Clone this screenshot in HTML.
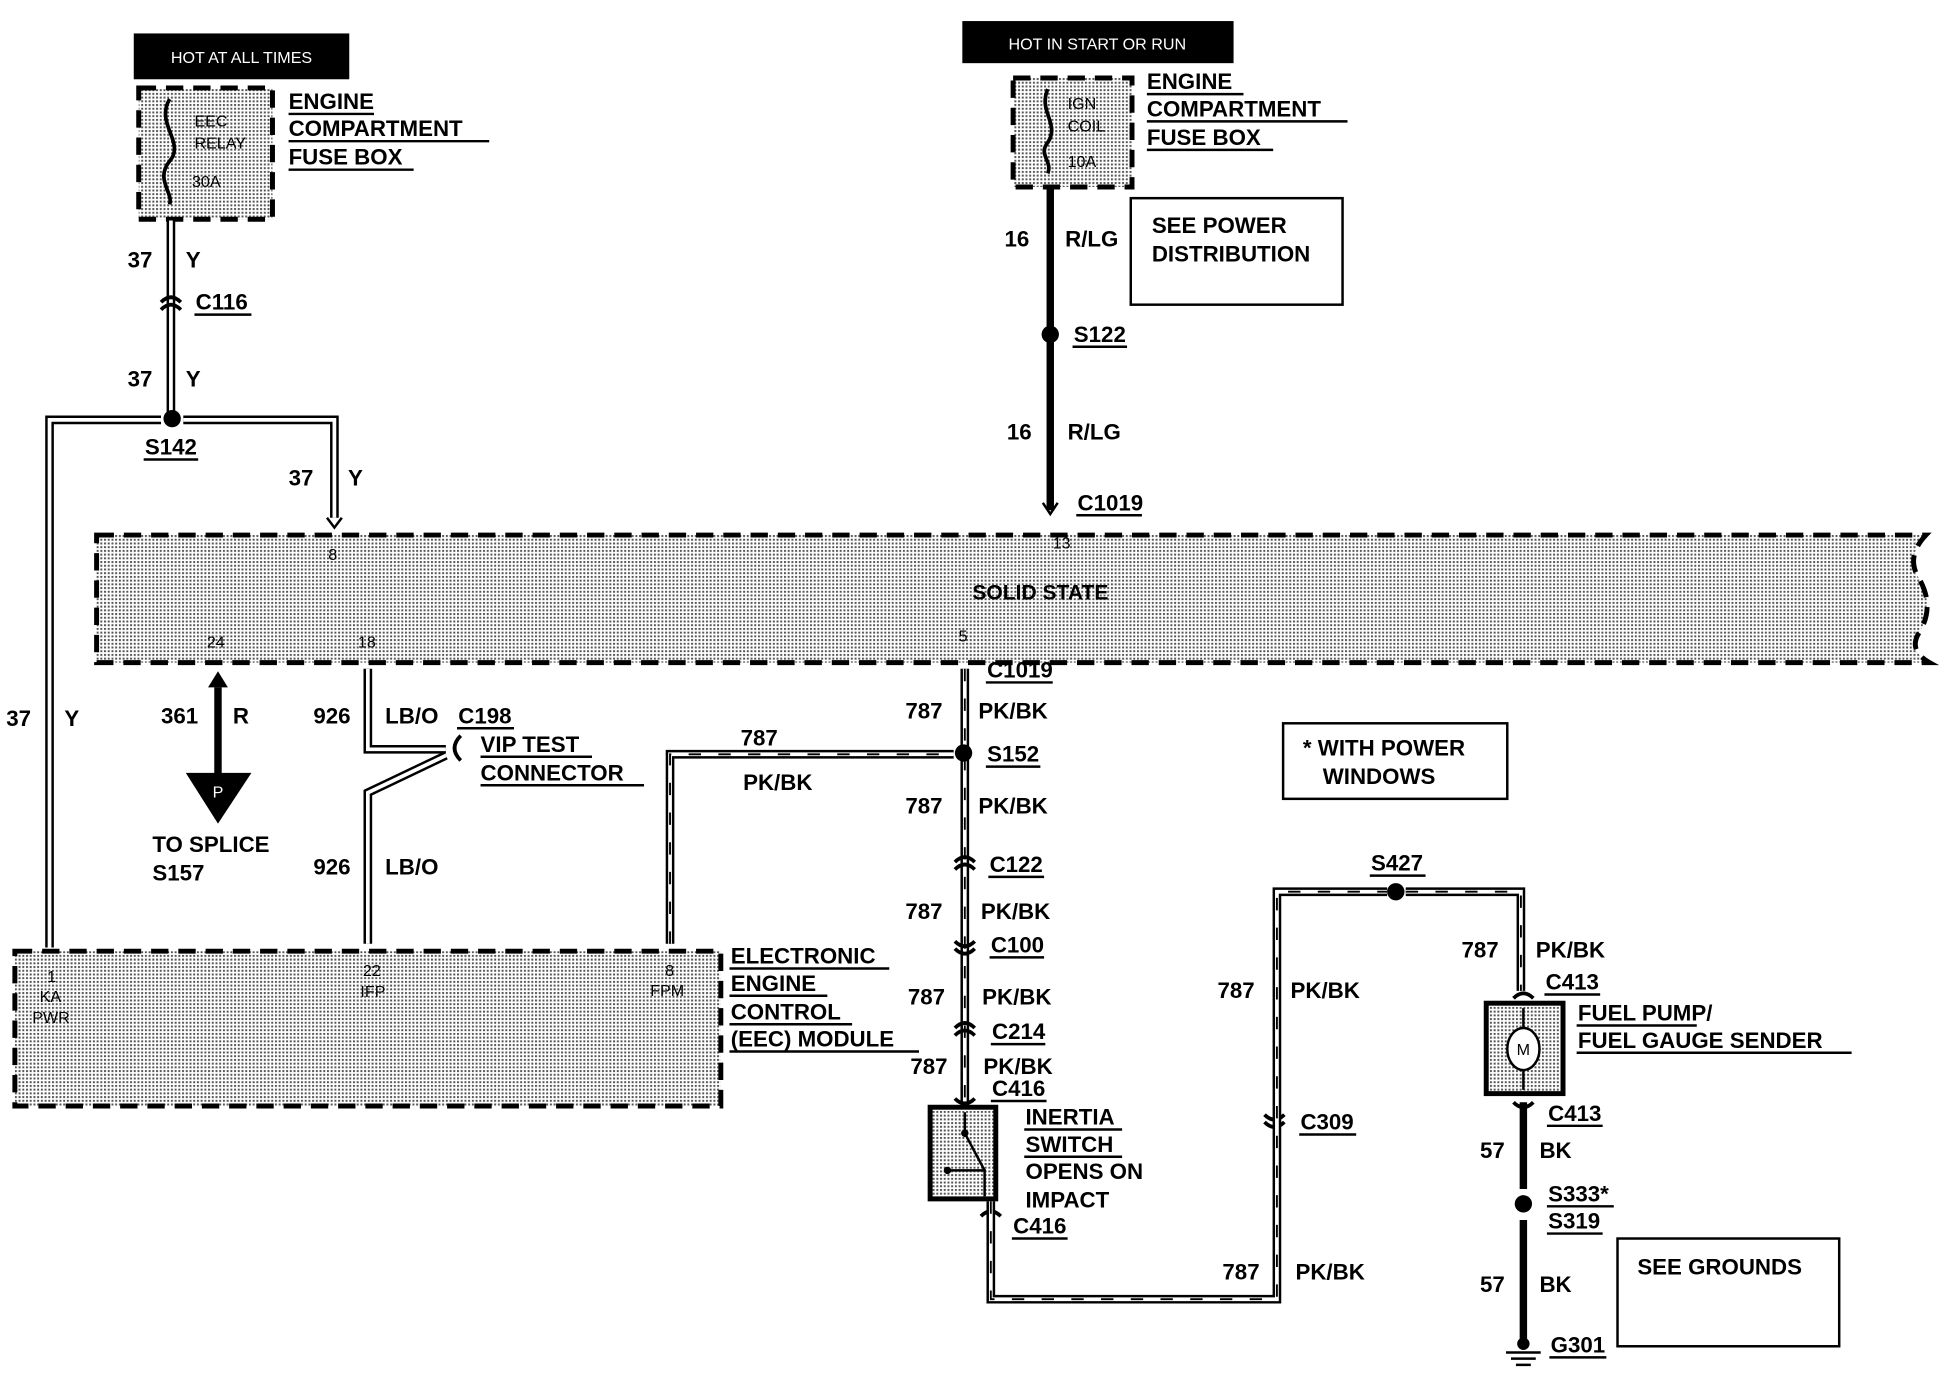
<!DOCTYPE html>
<html><head><meta charset="utf-8"><style>
html,body{margin:0;padding:0;background:#fff;}
svg{display:block;}
text{font-family:"Liberation Sans",sans-serif;font-weight:bold;fill:#000;}
.t{font-size:18px;}
.s{font-size:13px;font-weight:normal;}
.w{stroke:#000;stroke-width:7;fill:none;}
.wi{stroke:#fff;stroke-width:3;fill:none;}
.h{stroke:#000;stroke-width:1.5;fill:none;stroke-dasharray:10 14;}
.k{stroke:#000;stroke-width:6;fill:none;}
.u{stroke:#000;stroke-width:2;}
.box{fill:url(#dots);stroke:#000;stroke-width:4;stroke-dasharray:14 8;}
</style></head><body>
<svg width="1942" height="1376" viewBox="0 0 1568 1111" xmlns="http://www.w3.org/2000/svg">
<defs>
<pattern id="dots" width="3" height="3" patternUnits="userSpaceOnUse">
<rect width="3" height="3" fill="#fff"/><rect width="1.6" height="1.6" fill="#555"/>
</pattern>
</defs>

<rect x="108" y="27" width="174" height="37" fill="#000"/>
<text x="195" y="51" class="s" text-anchor="middle" style="fill:#fff">HOT AT ALL TIMES</text>
<rect x="112" y="71" width="108" height="106" class="box"/>
<text x="157" y="102" class="s">EEC</text><text x="157" y="120" class="s">RELAY</text><text x="155" y="151" class="s">30A</text>
<path d="M137 80 C125 100,150 115,137 130 C125 145,140 155,137 165" stroke="#000" stroke-width="3" fill="none"/>
<text x="233" y="88" class="t">ENGINE</text><line x1="233" y1="92" x2="302" y2="92" class="u"/>
<text x="233" y="110" class="t">COMPARTMENT</text><line x1="233" y1="114" x2="395" y2="114" class="u"/>
<text x="233" y="133" class="t">FUSE BOX</text><line x1="233" y1="137" x2="334" y2="137" class="u"/>

<path d="M138 178 V333" class="w"/><path d="M138 178 V333" class="wi"/>
<path d="M130 244 q8 -8 16 0 M130 250 q8 -8 16 0" stroke="#000" stroke-width="3" fill="none"/>
<text x="103" y="216" class="t">37</text><text x="150" y="216" class="t">Y</text>
<text x="158" y="250" class="t">C116</text><line x1="157" y1="254" x2="203" y2="254" class="u"/>
<text x="103" y="312" class="t">37</text><text x="150" y="312" class="t">Y</text>
<path d="M40 765 V339 H130 M148 339 H270 V418" class="w"/>
<path d="M40 765 V339 H130 M148 339 H270 V418" class="wi"/>
<circle cx="139" cy="338" r="7" fill="#000"/>
<path d="M264 418 L270 426 L276 418" stroke="#000" stroke-width="2" fill="none"/>
<text x="117" y="367" class="t">S142</text><line x1="116" y1="371" x2="160" y2="371" class="u"/>
<text x="233" y="392" class="t">37</text><text x="281" y="392" class="t">Y</text>
<text x="5" y="586" class="t">37</text><text x="52" y="586" class="t">Y</text>

<rect x="777" y="17" width="219" height="34" fill="#000"/>
<text x="886" y="40" class="s" text-anchor="middle" style="fill:#fff">HOT IN START OR RUN</text>
<rect x="818" y="63" width="96" height="88" class="box"/>
<text x="862" y="88" class="s">IGN</text><text x="862" y="106" class="s">COIL</text><text x="862" y="135" class="s">10A</text>
<path d="M846 72 C838 90,856 100,846 115 C838 125,850 130,846 140" stroke="#000" stroke-width="3" fill="none"/>
<text x="926" y="72" class="t">ENGINE</text><line x1="926" y1="76" x2="1004" y2="76" class="u"/>
<text x="926" y="94" class="t">COMPARTMENT</text><line x1="926" y1="98" x2="1088" y2="98" class="u"/>
<text x="926" y="117" class="t">FUSE BOX</text><line x1="926" y1="121" x2="1028" y2="121" class="u"/>
<path d="M848 152 V412" class="k"/>
<path d="M842 406 L848 415 L854 406" stroke="#000" stroke-width="2" fill="none"/>
<text x="811" y="199" class="t">16</text><text x="860" y="199" class="t">R/LG</text>
<rect x="913" y="160" width="171" height="86" fill="none" stroke="#000" stroke-width="2"/>
<text x="930" y="188" class="t">SEE POWER</text><text x="930" y="211" class="t">DISTRIBUTION</text>
<circle cx="848" cy="270" r="7" fill="#000"/>
<text x="867" y="276" class="t">S122</text><line x1="866" y1="280" x2="910" y2="280" class="u"/>
<text x="813" y="355" class="t">16</text><text x="862" y="355" class="t">R/LG</text>
<text x="870" y="412" class="t">C1019</text><line x1="869" y1="416" x2="922" y2="416" class="u"/>

<path d="M78 432 H1555 Q1538 450,1550 468 Q1562 490,1550 510 Q1540 525,1558 535 H78 Z" class="box"/>
<text x="840" y="484" class="t" text-anchor="middle" style="font-size:17px">SOLID STATE</text>
<text x="265" y="452" class="s">8</text><text x="850" y="443" class="s">13</text>
<text x="167" y="523" class="s">24</text><text x="289" y="523" class="s">18</text><text x="774" y="518" class="s">5</text>

<path d="M176 555 V625" class="k"/>
<path d="M168 555 L176 542 L184 555 Z" fill="#000"/>
<path d="M150 624 H203 L176 665 Z" fill="#000"/>
<text x="176" y="644" class="s" text-anchor="middle" style="fill:#fff">P</text>
<text x="130" y="584" class="t">361</text><text x="188" y="584" class="t">R</text>
<text x="123" y="688" class="t">TO SPLICE</text><text x="123" y="711" class="t">S157</text>

<path d="M297 540 V605 H360 M360 610 L297 640 V762" class="w"/>
<path d="M297 540 V605 H360 M360 610 L297 640 V762" class="wi"/>
<path d="M372 594 q-10 10 0 20" stroke="#000" stroke-width="3" fill="none"/>
<text x="253" y="584" class="t">926</text><text x="311" y="584" class="t">LB/O</text>
<text x="370" y="584" class="t">C198</text><line x1="369" y1="588" x2="415" y2="588" class="u"/>
<text x="388" y="607" class="t">VIP TEST</text><line x1="388" y1="611" x2="478" y2="611" class="u"/>
<text x="388" y="630" class="t">CONNECTOR</text><line x1="388" y1="634" x2="520" y2="634" class="u"/>
<text x="253" y="706" class="t">926</text><text x="311" y="706" class="t">LB/O</text>

<path d="M541 762 V609 H770" class="w"/><path d="M541 762 V609 H770" class="wi"/>
<path d="M541 762 V609 H770" class="h"/>
<text x="598" y="602" class="t">787</text><text x="600" y="638" class="t">PK/BK</text>

<path d="M779 540 V893" class="w"/><path d="M779 540 V893" class="wi"/><path d="M779 540 V893" class="h"/>
<circle cx="778" cy="608" r="7" fill="#000"/>
<g stroke="#000" stroke-width="3" fill="none">
<path d="M771 696 q8 -8 16 0 M771 702 q8 -8 16 0"/>
<path d="M771 760 q8 8 16 0 M771 766 q8 8 16 0"/>
<path d="M771 830 q8 -8 16 0 M771 836 q8 -8 16 0"/>
<path d="M771 887 q8 8 16 0"/>
<path d="M792 982 q8 -8 16 0"/>
<path d="M1021 900 q8 8 16 0 M1021 906 q8 8 16 0"/>
<path d="M1222 806 q8 -8 16 0"/>
<path d="M1222 890 q8 8 16 0"/>
</g>
<text x="797" y="547" class="t">C1019</text><line x1="796" y1="551" x2="850" y2="551" class="u"/>
<text x="731" y="580" class="t">787</text><text x="790" y="580" class="t">PK/BK</text>
<text x="797" y="615" class="t">S152</text><line x1="796" y1="619" x2="840" y2="619" class="u"/>
<text x="731" y="657" class="t">787</text><text x="790" y="657" class="t">PK/BK</text>
<text x="799" y="704" class="t">C122</text><line x1="798" y1="708" x2="843" y2="708" class="u"/>
<text x="731" y="742" class="t">787</text><text x="792" y="742" class="t">PK/BK</text>
<text x="800" y="769" class="t">C100</text><line x1="799" y1="773" x2="843" y2="773" class="u"/>
<text x="733" y="811" class="t">787</text><text x="793" y="811" class="t">PK/BK</text>
<text x="801" y="839" class="t">C214</text><line x1="800" y1="843" x2="844" y2="843" class="u"/>
<text x="735" y="867" class="t">787</text><text x="794" y="867" class="t">PK/BK</text>
<text x="801" y="885" class="t">C416</text><line x1="800" y1="889" x2="845" y2="889" class="u"/>

<rect x="751" y="894" width="53" height="74" fill="url(#dots)" stroke="#000" stroke-width="4"/>
<path d="M779 898 V915 L795 945 M765 945 H795 V966" stroke="#000" stroke-width="2" fill="none"/>
<circle cx="779" cy="915" r="3" fill="#000"/><circle cx="765" cy="945" r="3" fill="#000"/>
<text x="828" y="908" class="t">INERTIA</text><line x1="827" y1="912" x2="906" y2="912" class="u"/>
<text x="828" y="930" class="t">SWITCH</text><line x1="827" y1="934" x2="906" y2="934" class="u"/>
<text x="828" y="952" class="t">OPENS ON</text>
<text x="828" y="975" class="t">IMPACT</text>
<text x="818" y="996" class="t">C416</text><line x1="817" y1="1000" x2="862" y2="1000" class="u"/>

<path d="M800 970 V1049 H1031 V720 H1120 M1135 720 H1228 V800" class="w"/>
<path d="M800 970 V1049 H1031 V720 H1120 M1135 720 H1228 V800" class="wi"/>
<path d="M800 970 V1049 H1031 V720 H1120 M1135 720 H1228 V800" class="h"/>
<circle cx="1127" cy="720" r="7" fill="#000"/>
<text x="1107" y="703" class="t">S427</text><line x1="1106" y1="707" x2="1151" y2="707" class="u"/>
<text x="983" y="806" class="t">787</text><text x="1042" y="806" class="t">PK/BK</text>
<text x="1050" y="912" class="t">C309</text><line x1="1049" y1="916" x2="1095" y2="916" class="u"/>
<text x="987" y="1033" class="t">787</text><text x="1046" y="1033" class="t">PK/BK</text>
<text x="1180" y="773" class="t">787</text><text x="1240" y="773" class="t">PK/BK</text>
<text x="1248" y="799" class="t">C413</text><line x1="1247" y1="803" x2="1292" y2="803" class="u"/>

<rect x="1036" y="584" width="181" height="61" fill="none" stroke="#000" stroke-width="2"/>
<text x="1052" y="610" class="t">* WITH POWER</text><text x="1068" y="633" class="t">WINDOWS</text>

<rect x="1200" y="810" width="62" height="73" fill="url(#dots)" stroke="#000" stroke-width="4"/>
<ellipse cx="1230" cy="847" rx="13" ry="17" fill="#fff" stroke="#000" stroke-width="2"/>
<text x="1230" y="852" class="s" text-anchor="middle">M</text>
<path d="M1230 814 V830 M1230 864 V880" stroke="#000" stroke-width="2"/>
<text x="1274" y="824" class="t">FUEL PUMP/</text><line x1="1273" y1="828" x2="1370" y2="828" class="u"/>
<text x="1274" y="846" class="t">FUEL GAUGE SENDER</text><line x1="1273" y1="850" x2="1495" y2="850" class="u"/>
<path d="M1230 890 V960 M1230 985 V1085" class="k"/>
<circle cx="1230" cy="972" r="7" fill="#000"/>
<circle cx="1230" cy="1085" r="5" fill="#000"/>
<path d="M1216 1092 H1244 M1220 1097 H1240 M1224 1102 H1236" stroke="#000" stroke-width="2"/>
<text x="1250" y="905" class="t">C413</text><line x1="1249" y1="909" x2="1294" y2="909" class="u"/>
<text x="1195" y="935" class="t">57</text><text x="1243" y="935" class="t">BK</text>
<text x="1250" y="970" class="t">S333*</text><line x1="1249" y1="974" x2="1303" y2="974" class="u"/>
<text x="1250" y="992" class="t">S319</text><line x1="1249" y1="996" x2="1294" y2="996" class="u"/>
<text x="1195" y="1043" class="t">57</text><text x="1243" y="1043" class="t">BK</text>
<text x="1252" y="1092" class="t">G301</text><line x1="1251" y1="1096" x2="1297" y2="1096" class="u"/>
<rect x="1306" y="1000" width="179" height="87" fill="none" stroke="#000" stroke-width="2"/>
<text x="1322" y="1029" class="t">SEE GROUNDS</text>

<rect x="12" y="768" width="570" height="125" class="box"/>
<text x="38" y="793" class="s">1</text><text x="32" y="809" class="s">KA</text><text x="26" y="826" class="s">PWR</text>
<text x="293" y="788" class="s">22</text><text x="291" y="805" class="s">IFP</text>
<text x="537" y="788" class="s">8</text><text x="525" y="804" class="s">FPM</text>
<text x="590" y="778" class="t">ELECTRONIC</text><line x1="589" y1="782" x2="718" y2="782" class="u"/>
<text x="590" y="800" class="t">ENGINE</text><line x1="589" y1="804" x2="668" y2="804" class="u"/>
<text x="590" y="823" class="t">CONTROL</text><line x1="589" y1="827" x2="688" y2="827" class="u"/>
<text x="590" y="845" class="t">(EEC) MODULE</text><line x1="589" y1="849" x2="742" y2="849" class="u"/>
</svg>
</body></html>
